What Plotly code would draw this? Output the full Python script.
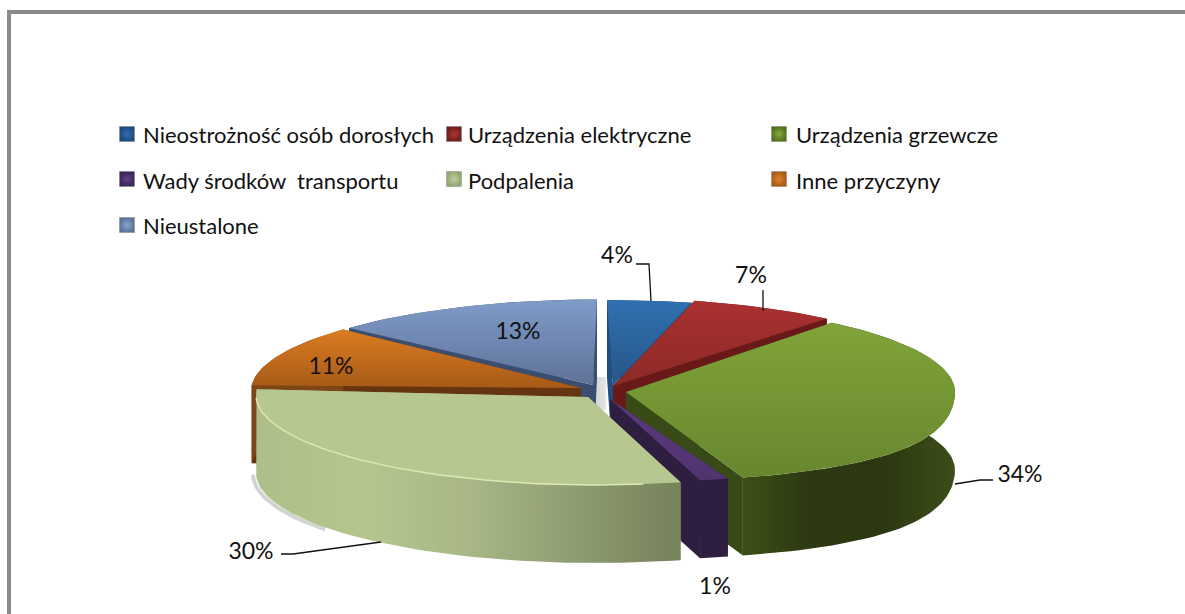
import math
import plotly.graph_objects as go

# ---- data ----
categories = ["Nieostrożność osób dorosłych", "Urządzenia elektryczne", "Urządzenia grzewcze",
              "Wady środków  transportu", "Podpalenia", "Inne przyczyny", "Nieustalone"]
shares = [4, 7, 34, 1, 30, 11, 13]

# ---- styles / geometry ----
FONT = "Lato"
CX, CY, RX, RY, DEPTH = 605, 388, 340, 90, 78
STYLE = [
    dict(off=(2, 2),   apex=(613, 385), k=0,    top=("#3070B0", "#265688"), wall="#1F4E80", rim="#1F4E80", legend="#2F6BAE", edge="#1F4A7C"),
    dict(off=(5, 0),   apex=(613, 386), k=0,    top=("#AA3030", "#8C2A28"), wall="#691A18", rim="#691A18", legend="#B03432", edge="#701E1C"),
    dict(off=(10, 4),  apex=(626, 392), k=0.24, top=("#80A43A", "#67872E"), wall="#384A16",
         rim=("#3C4E18", "#2C3811", "#2C3811", "#3C4E18"), legend="#86AA40", edge="#55701F"),
    dict(off=(-26, 5), apex=(610, 399), k=0.46, top=("#5A3A7A", "#503470"), wall="#2E1E40", rim="#2E1E40", legend="#62408A", edge="#3A2558"),
    dict(off=(-9, 7),  apex=(588, 397), k=0,    top=("#B6C890", "#B6C890"), wall="#8E9C70",
         rim=("#AEBE88", "#B5C68E", "#A8B785", "#8F9D72", "#76825A"), legend="#C0D09C", edge="#94A670"),
    dict(off=(-14, 3), apex=(581, 388), k=0,    top=("#DC7C22", "#A65A18"), wall="#66340E", rim="#7F4516", legend="#E0822A", edge="#A85A18"),
    dict(off=(-8, 1.5), apex=(593, 385), k=0,   top=("#7F9CC8", "#5F7199"), wall="#3A4F70", rim="#3A4F70", legend="#8AA6D0", edge="#5A7398"),
]
DRAW_ORDER = [6, 5, 0, 1, 2, 3, 4]
LEGEND_MARK_X = [127, 454, 779]
LEGEND_TEXT_X = [143, 468, 796]
LEGEND_ROW_Y = [134, 179, 225]
LEGEND_TEXT_Y = [137, 183, 228]
LABEL_POS = [(617, 257), (751, 277), (1020, 476), (715, 588), (251, 553), (331, 368), (518, 333)]
LEADERS = [
    [(636, 264), (649, 264), (651, 301)],
    [(763, 290), (763, 311)],
    [(993, 480), (980, 480), (955, 484)],
    [(281, 554), (293, 554), (381, 542)],
]


def arc_points(a0, a1, st):
    n = max(3, int((a1 - a0) / 1.5))
    pts = []
    for i in range(n + 1):
        t = math.radians(a0 + (a1 - a0) * i / n)
        f = 1 + st["k"] * max(0.0, -math.cos(t)) ** 2
        pts.append((CX + st["off"][0] + RX * math.sin(t) * f,
                    CY + st["off"][1] - RY * math.cos(t)))
    return pts


def polygon(pts, color=None, grad=None, direction="vertical"):
    xs = [p[0] for p in pts] + [pts[0][0]]
    ys = [p[1] for p in pts] + [pts[0][1]]
    kw = dict(x=xs, y=ys, mode="lines", line=dict(width=0), fill="toself", hoverinfo="skip", showlegend=False)
    if grad:
        g = grad[::-1] if direction == "vertical" else grad  # y axis runs downwards
        m = len(g) - 1
        kw["fillgradient"] = dict(type=direction, colorscale=[[i / m, c] for i, c in enumerate(g)])
    else:
        kw["fillcolor"] = color
    return go.Scatter(**kw)


def down(pts):
    return [(x, y + DEPTH) for x, y in pts]


fig = go.Figure()

# pale grey gap seen behind the centre
fig.add_trace(polygon([(CX - 12, CY - 11), (CX + 1, CY - 11), (CX + 1, CY + 22), (CX - 12, CY + 22)],
                      grad=("#D0D0D0", "#E6E6E6"), direction="horizontal"))

# slices
cum = [0]
for v in shares:
    cum.append(cum[-1] + v)
total = cum[-1]
for i in DRAW_ORDER:
    st = STYLE[i]
    a0, a1 = cum[i] * 360 / total, cum[i + 1] * 360 / total
    arc = arc_points(a0, a1, st)
    apex = st["apex"]
    if i == 4:  # soft shadow under the large front slice
        sh = [(x - 3, y + 1) for x, y in down(arc_points(232, a1 - 4, st))]
        fig.add_trace(go.Scatter(x=[p[0] for p in sh], y=[p[1] for p in sh], mode="lines", hoverinfo="skip",
                                 showlegend=False, line=dict(color="rgba(110,110,110,0.3)", width=4)))
    # radial walls
    for end in (arc[0], arc[-1]):
        fig.add_trace(polygon([apex, end, (end[0], end[1] + DEPTH), (apex[0], apex[1] + DEPTH)], color=st["wall"]))
    # outer rim
    rim_poly = arc + down(arc)[::-1]
    if isinstance(st["rim"], tuple):
        fig.add_trace(polygon(rim_poly, grad=st["rim"], direction="horizontal"))
    else:
        fig.add_trace(polygon(rim_poly, color=st["rim"]))
    # top
    fig.add_trace(polygon([apex] + arc, grad=st["top"], direction="vertical"))
    if i == 4:  # light edge highlight
        hl = arc_points(172, 268, st)
        fig.add_trace(go.Scatter(x=[p[0] for p in hl], y=[p[1] for p in hl], mode="lines", hoverinfo="skip",
                                 showlegend=False, line=dict(color="#DDE8B4", width=1.5)))

# leader lines
for pts in LEADERS:
    fig.add_trace(go.Scatter(x=[p[0] for p in pts], y=[p[1] for p in pts], mode="lines", hoverinfo="skip",
                             showlegend=False, line=dict(color="#111111", width=1.3)))

# percentage labels
fig.add_trace(go.Scatter(x=[p[0] for p in LABEL_POS], y=[p[1] for p in LABEL_POS], mode="text",
                         text=[f"{v}%" for v in shares], textposition="middle center", hoverinfo="skip",
                         showlegend=False, textfont=dict(family=FONT, size=23, color="#111111")))

# legend grid
lx = [LEGEND_MARK_X[i % 3] for i in range(len(categories))]
ly = [LEGEND_ROW_Y[i // 3] for i in range(len(categories))]
tx = [LEGEND_TEXT_X[i % 3] for i in range(len(categories))]
ty = [LEGEND_TEXT_Y[i // 3] for i in range(len(categories))]
fig.add_trace(go.Scatter(x=lx, y=ly, mode="markers", hoverinfo="skip", showlegend=False,
                         marker=dict(symbol="square", size=15, color=[s["edge"] for s in STYLE],
                                     gradient=dict(type="radial", color=[s["legend"] for s in STYLE]),
                                     line=dict(color="rgba(120,120,120,0.4)", width=1))))
fig.add_trace(go.Scatter(x=tx, y=ty, mode="text", text=categories, textposition="middle right", hoverinfo="skip",
                         showlegend=False, textfont=dict(family=FONT, size=22, color="#111111")))

fig.update_layout(
    width=1185, height=614, margin=dict(l=0, r=0, t=0, b=0),
    paper_bgcolor="white", plot_bgcolor="white", showlegend=False,
    xaxis=dict(range=[0, 1185], visible=False, fixedrange=True),
    yaxis=dict(range=[614, 0], visible=False, fixedrange=True),
    shapes=[
        dict(type="line", x0=7, x1=1185, y0=12, y1=12, line=dict(color="#8A8A8A", width=4)),
        dict(type="line", x0=9, x1=9, y0=10, y1=614, line=dict(color="#8A8A8A", width=4)),
    ],
)
fig.write_html("out.html", post_script="document.body.style.margin='0';", config=dict(displayModeBar=False))
